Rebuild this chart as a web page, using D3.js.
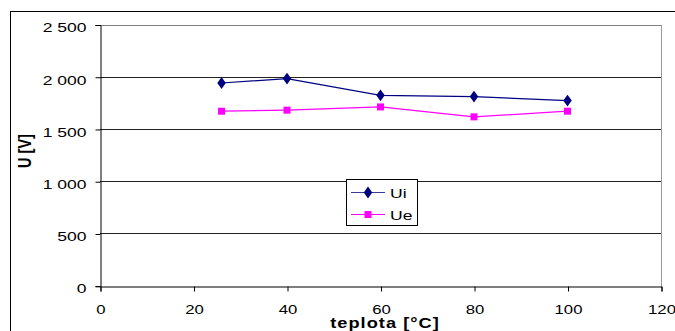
<!DOCTYPE html>
<html><head><meta charset="utf-8">
<script src="https://cdn.jsdelivr.net/npm/d3@7"></script>
<style>body{margin:0;background:#fff}svg{display:block}</style>
</head><body>
<svg id="c" width="675" height="331"></svg>
<script>
const temps = [26, 40, 60, 80, 100];
const ui = [1940, 1982, 1822, 1810, 1772];
const ue = [1670, 1680, 1711, 1616, 1670];
const xTicks = [0, 20, 40, 60, 80, 100, 120];
const yTicks = [0, 500, 1000, 1500, 2000, 2500];
const seriesNames = ["Ui", "Ue"];

const svg = d3.select("#c");
const font = "'Liberation Sans', Arial, sans-serif";
const SX = 1.3;
const x = d3.scaleLinear().domain([0, 120]).range([100, 661]);
const y = d3.scaleLinear().domain([0, 2500]).range([285.7, 24.5]);

// outer chart frame
svg.append("line").attr("x1", 10.5).attr("x2", 10.5).attr("y1", 11).attr("y2", 331).attr("stroke", "#000");
svg.append("line").attr("x1", 10).attr("x2", 675).attr("y1", 11.5).attr("y2", 11.5).attr("stroke", "#000");

// gridlines
svg.append("g").selectAll("line").data(yTicks.filter(d => d > 0)).join("line")
  .attr("x1", x(0)).attr("x2", x(120))
  .attr("y1", d => Math.round(y(d)) + 0.5).attr("y2", d => Math.round(y(d)) + 0.5)
  .attr("stroke", d => d === 2500 ? "#808080" : "#222");
// right border
svg.append("line").attr("x1", x(120) + 0.5).attr("x2", x(120) + 0.5)
  .attr("y1", Math.round(y(2500))).attr("y2", Math.round(y(0)) + 0.5).attr("stroke", "#999");

// axes
const yAxis = d3.axisLeft(y).tickValues(yTicks).tickSize(5)
  .tickFormat(d => d3.format(",")(d).replace(/,/g, " "));
const gy = svg.append("g").attr("transform", `translate(${x(0) + 0.5},0.5)`).call(yAxis);
gy.select(".domain").attr("stroke", "#000");
gy.selectAll("text").attr("font-family", font).attr("font-size", 13.5).attr("fill", "#000")
  .attr("x", 0).attr("dy", "0.5em").attr("transform", `translate(-14,0) scale(${SX},1)`);

const xAxis = d3.axisBottom(x).tickValues(xTicks).tickSize(5);
const gx = svg.append("g").attr("transform", `translate(0.5,${Math.round(y(0)) + 0.5})`).call(xAxis);
gx.select(".domain").attr("stroke", "#000");
gx.selectAll("text").attr("font-family", font).attr("font-size", 13.5).attr("fill", "#000")
  .attr("y", 0).attr("dy", 0).attr("transform", `translate(0,27) scale(1.24,1)`);

// axis titles
svg.append("text").attr("transform", `translate(385,328) scale(${SX},1)`).attr("text-anchor", "middle")
  .attr("font-family", font).attr("font-weight", "bold").attr("font-size", 14).attr("letter-spacing", 0.8)
  .text("teplota [°C]");
svg.append("text").attr("transform", `translate(31,151) scale(${SX},1) rotate(-90)`).attr("text-anchor", "middle")
  .attr("font-family", font).attr("font-weight", "bold").attr("font-size", 14.5).text("U [V]");

// series
const line = d3.line().x(d => x(d[0])).y(d => y(d[1]));
const colors = ["#000080", "#ff00ff"];
const data = [ui, ue].map(v => temps.map((t, i) => [t, v[i]]));
const diamond = d3.symbol().type(d3.symbolDiamond).size(40);
data.forEach((s, k) => {
  svg.append("path").datum(s).attr("d", line).attr("fill", "none").attr("stroke", colors[k]).attr("stroke-width", 1.2);
  const g = svg.append("g");
  if (k === 0) {
    g.selectAll("path").data(s).join("path").attr("d", diamond)
      .attr("transform", d => `translate(${x(d[0])},${y(d[1])}) scale(1.25,1)`).attr("fill", colors[k]);
  } else {
    g.selectAll("rect").data(s).join("rect")
      .attr("x", d => x(d[0]) - 3.5).attr("y", d => y(d[1]) - 3.5).attr("width", 7).attr("height", 7).attr("fill", colors[k]);
  }
});

// legend
const lg = svg.append("g");
lg.append("rect").attr("x", 346.5).attr("y", 179.5).attr("width", 71).attr("height", 46).attr("fill", "#fff").attr("stroke", "#000");
seriesNames.forEach((n, k) => {
  const yy = k === 0 ? 192.5 : 214.5;
  lg.append("line").attr("x1", 351).attr("x2", 385).attr("y1", yy).attr("y2", yy).attr("stroke", colors[k] === "#000080" ? "#3a3a9a" : colors[k]).attr("stroke-width", 1.2);
  if (k === 0) lg.append("path").attr("d", diamond).attr("transform", `translate(368,${yy}) scale(1.25,1)`).attr("fill", colors[k]);
  else lg.append("rect").attr("x", 364.5).attr("y", yy - 3.5).attr("width", 7).attr("height", 7).attr("fill", colors[k]);
  lg.append("text").attr("transform", `translate(390,${yy + 5}) scale(${SX},1)`).attr("font-family", font).attr("font-size", 13.5).text(n);
});
</script>
</body></html>
